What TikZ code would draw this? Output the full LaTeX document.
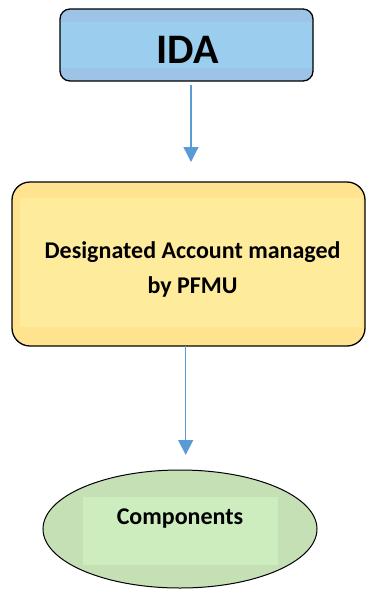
\documentclass[tikz,border=0pt]{standalone}
\usepackage{fontspec}
\setmainfont{Carlito}
\usetikzlibrary{shapes.geometric,arrows.meta}
\definecolor{idaout}{HTML}{9DC3E6}
\definecolor{idain}{HTML}{9BCDEF}
\definecolor{yelout}{HTML}{FFE38E}
\definecolor{yelin}{HTML}{FFEB9C}
\definecolor{grnout}{HTML}{C5E0B4}
\definecolor{grnin}{HTML}{CDEDBF}
\definecolor{arrowblue}{HTML}{5B9BD5}
\tikzset{
  conn/.style={draw=arrowblue, line width=1.2pt, -{Triangle[width=15pt,length=15pt]}},
  lbl/.style={font=\bfseries, text=black, align=center, inner sep=0pt},
}
\begin{document}
\begin{tikzpicture}[x=1pt,y=-1pt]
\useasboundingbox (0,0) rectangle (368,590);
% IDA box
\node[draw=black, line width=1.3pt, fill=idaout, rounded corners=10pt, minimum width=253pt, minimum height=72pt, inner sep=0pt] (ida) at (186.5,45) {};
\fill[idain] (61,22) rectangle (312,68);
\node[lbl, font=\fontsize{42}{42}\selectfont\bfseries] (idat) at (187.5,50) {IDA};
% Yellow box
\node[draw=black, line width=1.3pt, fill=yelout, rounded corners=18pt, minimum width=353pt, minimum height=164pt, inner sep=0pt] (da) at (188.5,264) {};
\fill[yelin] (20,198) rectangle (362,327);
\node[lbl, font=\fontsize{24}{35}\selectfont\bfseries] (dat) at (192.5,269) {Designated Account managed\\by PFMU};
% Green ellipse
\node[ellipse, draw=black, line width=1pt, fill=grnout, minimum width=274pt, minimum height=118pt, inner sep=0pt] (comp) at (180,529) {};
\fill[grnin] (83,497) rectangle (278,565);
\node[lbl, font=\fontsize{24}{28}\selectfont\bfseries] (compt) at (180,519) {Components};
% connectors
\coordinate (a1s) at (191,85);
\coordinate (a1e) at (191,162);
\draw[conn] (a1s) -- (a1e);
\coordinate (a2s) at (185.7,346);
\coordinate (a2e) at (185.7,455);
\draw[conn] (a2s) -- (a2e);
\end{tikzpicture}
\end{document}
